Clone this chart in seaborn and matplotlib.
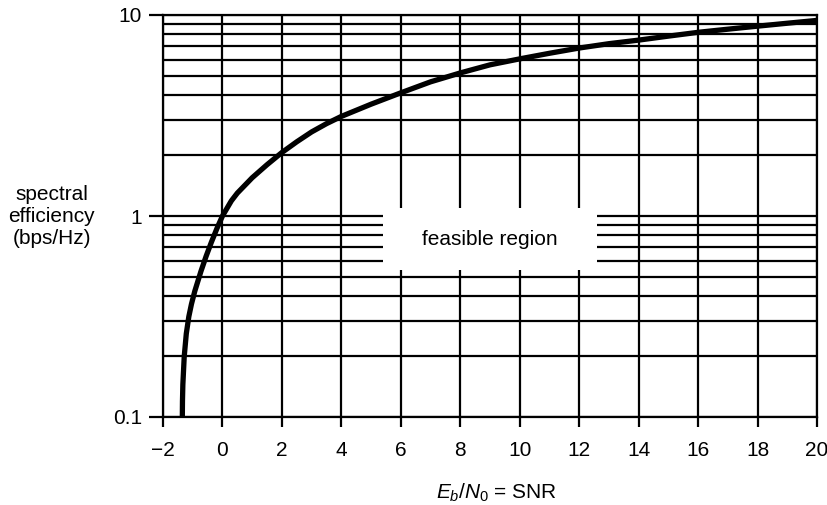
import numpy as np
import pandas as pd
import matplotlib
matplotlib.use('Agg')
import matplotlib.pyplot as plt
import seaborn as sns
from matplotlib.ticker import MultipleLocator, LogLocator, NullFormatter, FuncFormatter
from matplotlib.patches import Rectangle

# curve: Eb/N0 (dB) vs spectral efficiency (bps/Hz)
snr_db = [-1.35, -1.345, -1.332, -1.286, -1.216, -1.131, -1.042, -0.932, -0.723, -0.549,
          -0.372, -0.18, 0.0, 0.3, 0.5, 1.0, 1.5, 2.0, 2.5, 3.0, 3.5, 4.0, 5.0,
          6.0, 7.0, 8.0, 9.0, 10.0, 11.0, 12.0, 13.0, 14.0, 15.0, 16.0, 17.0,
          18.0, 19.0, 20.0]
efficiency = [0.1, 0.12, 0.145, 0.2, 0.26, 0.316, 0.365, 0.422, 0.531, 0.631,
              0.741, 0.871, 1.0, 1.19, 1.3, 1.55, 1.8, 2.07, 2.34, 2.62, 2.88, 3.13, 3.6,
              4.1, 4.65, 5.15, 5.65, 6.05, 6.45, 6.85, 7.2, 7.5, 7.85, 8.2, 8.5,
              8.8, 9.1, 9.4]
x_ticks = [-2, 0, 2, 4, 6, 8, 10, 12, 14, 16, 18, 20]
y_ticks = [0.1, 1, 10]

df = pd.DataFrame({'snr': snr_db, 'eff': efficiency})

sns.set_style('white')
plt.rcParams['font.family'] = ['Liberation Sans', 'DejaVu Sans']
plt.rcParams['mathtext.fontset'] = 'custom'
plt.rcParams['mathtext.it'] = 'Liberation Sans:italic'
plt.rcParams['mathtext.rm'] = 'Liberation Sans'
plt.rcParams['text.color'] = 'black'
plt.rcParams['xtick.color'] = 'black'
plt.rcParams['ytick.color'] = 'black'
plt.rcParams['axes.labelcolor'] = 'black'

fs = 15

fig = plt.figure(figsize=(8.28, 5.05), dpi=100)
ax = fig.add_axes([163 / 828, 1 - 417 / 505, 654 / 828, 402 / 505])

ax.set_yscale('log')
ax.set_xlim(-2, 20)
ax.set_ylim(0.1, 10)

# grid: every 2 dB vertically, log minor lines horizontally
ax.xaxis.set_major_locator(MultipleLocator(2))
ax.yaxis.set_major_locator(LogLocator(base=10))
ax.yaxis.set_minor_locator(LogLocator(base=10, subs=np.arange(2, 10)))
ax.yaxis.set_minor_formatter(NullFormatter())
ax.yaxis.set_major_formatter(FuncFormatter(lambda v, p: '{:g}'.format(v)))
ax.set_xticks(x_ticks)
ax.set_yticks(y_ticks)
ax.set_axisbelow(True)
ax.grid(True, which='major', axis='x', color='black', lw=1.6)
ax.grid(True, which='both', axis='y', color='black', lw=1.6)

# blank box behind the label
ax.add_patch(Rectangle((5.40, 0.539), 7.2, 1.096 - 0.539, facecolor='white',
                       edgecolor='none', zorder=1))
ax.text(9.0, 0.76, 'feasible region', ha='center', va='center', fontsize=fs, zorder=3)

sns.lineplot(data=df, x='snr', y='eff', ax=ax, color='black', lw=3.8,
             sort=False, estimator=None, zorder=4)
ax.lines[-1].set_solid_capstyle('butt')
ax.lines[-1].set_solid_joinstyle('round')

for s in ax.spines.values():
    s.set_color('black')
    s.set_linewidth(1.6)

ax.tick_params(axis='x', which='major', length=7, width=1.6, pad=10, labelsize=fs,
               direction='out', bottom=True)
ax.tick_params(axis='y', which='major', length=10, width=1.6, pad=5, labelsize=fs,
               direction='out', left=True)
ax.tick_params(axis='y', which='minor', length=0)

ax.set_xlabel(r'$E_b/N_0$ = SNR', fontsize=fs, va='center')
ax.xaxis.set_label_coords(0.51, -0.189)
ax.set_ylabel('spectral\nefficiency\n(bps/Hz)', fontsize=fs, rotation=0,
              ha='center', va='center', linespacing=1.2)
ax.yaxis.set_label_coords(-0.17, 0.5)

fig.savefig('out.png', dpi=100)
